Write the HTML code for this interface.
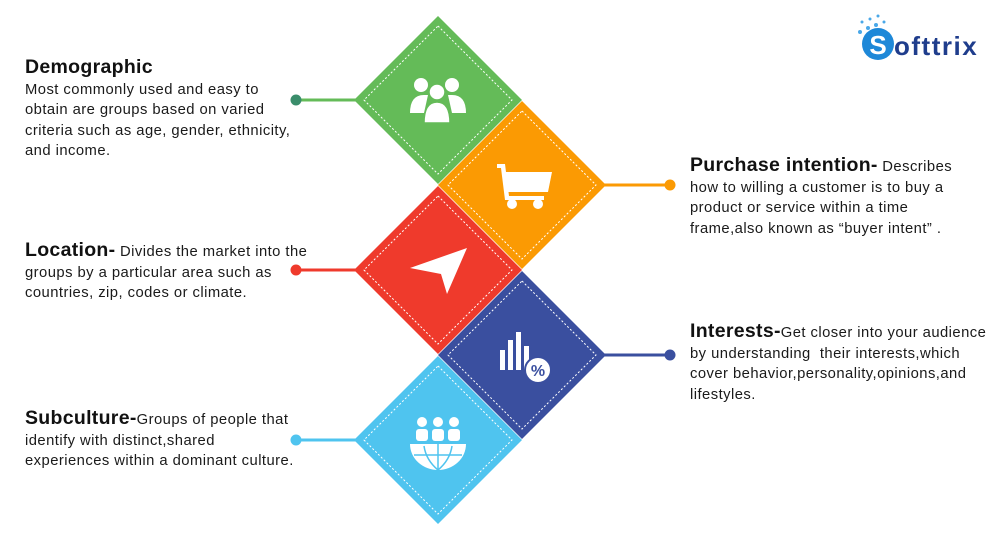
<!DOCTYPE html>
<html><head><meta charset="utf-8"><style>
body{margin:0;width:1000px;height:550px;background:#fff;position:relative;overflow:hidden;font-family:"Liberation Sans",sans-serif;color:#1a1a1a}
.t{position:absolute;font-size:14.8px;line-height:20.5px;white-space:nowrap;letter-spacing:0.45px}
.t b{font-size:19.5px;font-weight:bold;color:#111;letter-spacing:0.3px}
</style></head><body>
<svg width="1000" height="550" style="position:absolute;left:0;top:0">
<g stroke-width="3">
<line x1="296" y1="100" x2="358" y2="100" stroke="#64bb58"/>
<line x1="603" y1="185" x2="670" y2="185" stroke="#fb9a03"/>
<line x1="296" y1="270" x2="358" y2="270" stroke="#ef3a2c"/>
<line x1="603" y1="355" x2="670" y2="355" stroke="#3a4f9f"/>
<line x1="296" y1="440" x2="358" y2="440" stroke="#4fc4ef"/>
</g>
<circle cx="296" cy="100" r="5.5" fill="#3a8d6b"/>
<circle cx="670" cy="185" r="5.5" fill="#fb9a03"/>
<circle cx="296" cy="270" r="5.5" fill="#ef3a2c"/>
<circle cx="670" cy="355" r="5.5" fill="#3a4f9f"/>
<circle cx="296" cy="440" r="5.5" fill="#4fc4ef"/>
<g stroke="#fff" stroke-width="1" stroke-dasharray="2,2" >
<polygon points="438,16 522,100 438,184 354,100" fill="#64bb58" stroke="none"/>
<polygon points="438,26 512,100 438,174 364,100" fill="none"/>
<polygon points="522,101 606,185 522,269 438,185" fill="#fb9a03" stroke="none"/>
<polygon points="522,111 596,185 522,259 448,185" fill="none"/>
<polygon points="438,186 522,270 438,354 354,270" fill="#ef3a2c" stroke="none"/>
<polygon points="438,196 512,270 438,344 364,270" fill="none"/>
<polygon points="522,271 606,355 522,439 438,355" fill="#3a4f9f" stroke="none"/>
<polygon points="522,281 596,355 522,429 448,355" fill="none"/>
<polygon points="438,356 522,440 438,524 354,440" fill="#4fc4ef" stroke="none"/>
<polygon points="438,366 512,440 438,514 364,440" fill="none"/>
</g>
<g fill="#fff">
<circle cx="421" cy="85" r="7"/><circle cx="452" cy="85" r="7"/>
<path d="M410 113 q0-18 14-18 l4 0 l-4 18z"/><path d="M466 113 q0-18 -14-18 l-4 0 l4 18z"/>
<circle cx="437" cy="92" r="8" stroke="#64bb58" stroke-width="1.5"/>
<path d="M424 123 q0-21 13-21 q13 0 13 21z" stroke="#64bb58" stroke-width="1.5"/>
<path d="M497 164 h8 l4 32 h35 l0 4 h-39 l-4-32 h-4z"/>
<path d="M504 172 h48 l-4 20 h-40z"/>
<circle cx="512" cy="204" r="5"/><circle cx="538" cy="204" r="5"/>
<path d="M410 268 l57-20 l-20 46 l-6-20z"/>
<rect x="500" y="350" width="5" height="20"/><rect x="508" y="340" width="5" height="30"/><rect x="516" y="332" width="5" height="38"/><rect x="524" y="346" width="5" height="24"/>
<circle cx="538" cy="370" r="13" stroke="#3a4f9f" stroke-width="2"/>
<circle cx="422" cy="422" r="5"/><circle cx="438" cy="422" r="5"/><circle cx="454" cy="422" r="5"/>
<rect x="416" y="429" width="12" height="12" rx="3"/><rect x="432" y="429" width="12" height="12" rx="3"/><rect x="448" y="429" width="12" height="12" rx="3"/>
<path d="M410 444 h56 a28 26 0 0 1 -56 0z"/>
</g>
<text x="538" y="376" font-family="Liberation Sans" font-weight="bold" font-size="16" fill="#3a4f9f" text-anchor="middle">%</text>
<g stroke="#4fc4ef" stroke-width="1.5" fill="none"><line x1="438" y1="444" x2="438" y2="470"/><path d="M424 446 q2 14 14 24 q12-10 14-24"/><line x1="414" y1="455" x2="462" y2="455"/></g>
<circle cx="878" cy="44" r="16" fill="#1e88d8"/>
<g fill="#4aa8e8"><circle cx="862" cy="22" r="1.5"/><circle cx="870" cy="19" r="1.5"/><circle cx="878" cy="16" r="1.5"/><circle cx="868" cy="28" r="2"/><circle cx="876" cy="25" r="2"/><circle cx="884" cy="22" r="1.5"/><circle cx="860" cy="32" r="2"/></g>
<text x="878" y="54" font-family="Liberation Sans" font-weight="bold" font-size="26" fill="#fff" text-anchor="middle">S</text>
<text x="894" y="55" font-family="Liberation Sans" font-weight="bold" font-size="26" letter-spacing="1.5" fill="#1f3d8c">ofttrix</text>
</svg>
<div class="t" style="left:25px;top:57px"><b>Demographic</b><br>Most commonly used and easy to<br>obtain are groups based on varied<br>criteria such as age, gender, ethnicity,<br>and income.</div>
<div class="t" style="left:690px;top:155px"><b>Purchase intention-</b> Describes<br>how to willing a customer is to buy a<br>product or service within a time<br>frame,also known as “buyer intent” .</div>
<div class="t" style="left:25px;top:240px"><b>Location-</b> Divides the market into the<br>groups by a particular area such as<br>countries, zip, codes or climate.</div>
<div class="t" style="left:690px;top:321px"><b>Interests-</b>Get closer into your audience<br>by understanding &nbsp;their interests,which<br>cover behavior,personality,opinions,and<br>lifestyles.</div>
<div class="t" style="left:25px;top:408px"><b>Subculture-</b>Groups of people that<br>identify with distinct,shared<br>experiences within a dominant culture.</div>
</body></html>
